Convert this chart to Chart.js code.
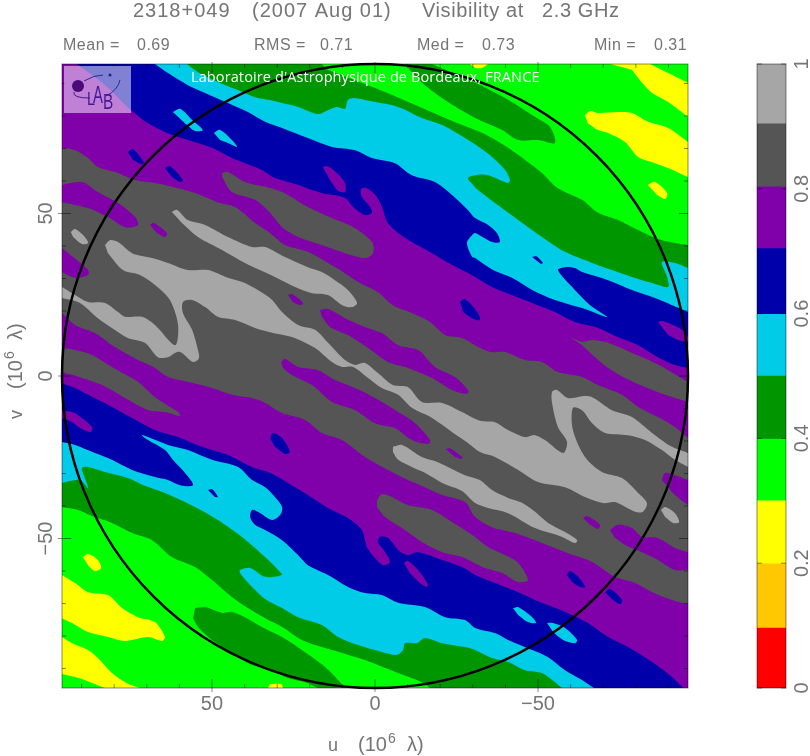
<!DOCTYPE html>
<html>
<head>
<meta charset="utf-8">
<script src="https://cdn.jsdelivr.net/npm/chart.js@4/dist/chart.umd.js"></script>
<style>
  html, body { margin: 0; padding: 0; background: #fff; }
  #page { position: relative; width: 810px; height: 756px; overflow: hidden; }
  canvas { position: absolute; top: 0; }
</style>
</head>
<body>
<div id="page">
  <canvas id="mapChart" width="810" height="756" style="left:0"></canvas>
  <canvas id="barChart" width="70" height="756" style="left:740px"></canvas>
</div>
<script>
const titleParts = ['2318+049', '(2007 Aug 01)', 'Visibility at', '2.3 GHz']
const statLabels = ['Mean =', 'RMS =', 'Med =', 'Min =']
const statValues = ['0.69', '0.71', '0.73', '0.31']
const creditText = "Laboratoire d'Astrophysique de Bordeaux, FRANCE"
const uvTicks = [-50, 0, 50]
const uvMinorTicks = [-90, -80, -70, -60, -40, -30, -20, -10, 10, 20, 30, 40, 60, 70, 80, 90]
const barTicks = [0, 0.2, 0.4, 0.6, 0.8, 1]
const barBounds = [0, 0.096, 0.199, 0.3, 0.399, 0.5, 0.599, 0.704, 0.803, 0.904, 1]
const levelColors = ['#ff0000', '#ffc800', '#ffff00', '#00ff00', '#009600', '#00cce8', '#0000aa', '#8000aa', '#555555', '#a6a6a6']

// contours of the visibility amplitude, [u, v] in 10^6 lambda
const fullArea = [[96,96],[-96,96],[-96,-96],[96,-96]]
const yellowTopRight = [[-72.1,96],[-84.4,96],[-89.9,93.2],[-96,90.2],[-96,79.7],[-89.9,84.3],[-85,87.1],[-81.9,90.2],[-78.8,94.2]]
const yellowRight = [[-64.4,80.3],[-66,81.5],[-68.4,80.9],[-74.5,81.2],[-78.8,80.9],[-83.7,78.2],[-89.9,76.3],[-96,72],[-96,61.2],[-89.9,64],[-85.9,65.5],[-80.7,67.4],[-76.7,72],[-71.5,74.8],[-68.4,75.7],[-65.3,77.8]]
const yellowSpotRight = [[-83.7,58.8],[-85.9,59.7],[-89.6,56.3],[-89,54.5],[-86.5,55.7]]
const yellowTopEdge = [[-29.1,96],[-34.7,96],[-32.8,94.8],[-30.7,94.8]]
const yellowBottomEdge = [[32.8,-96],[28.2,-96],[28.8,-94.8],[32.2,-94.8]]
const yellowSpotLeft = [[89.6,-55.7],[88,-54.8],[85,-56.6],[84,-59.1],[85.9,-60],[88,-58.2]]
const yellowLeft = [[96,-61.2],[92,-63.7],[88,-66.5],[81.9,-67.4],[77.6,-71.4],[72.7,-74.2],[67.5,-75.7],[64.4,-80.3],[65.3,-81.5],[69.6,-80.3],[76.7,-81.5],[81.9,-80.3],[88,-78.8],[92.9,-76],[96,-74.5]]
const yellowBottomLeft = [[96,-80.3],[92.9,-82.2],[88,-84.3],[85,-86.8],[80.7,-91.4],[76.1,-94.5],[72.1,-96],[82.8,-96],[89,-93.5],[92,-92.6],[96,-91.7]]

const greenMain = [[96,96],[16.3,96],[14.4,94.2],[7.1,91.4],[-3.1,87.4],[-13.8,82.8],[-23,78.8],[-33.7,74.5],[-35.9,73.2],[-40.8,70.2],[-46,66.5],[-51.2,62.5],[-56.1,57.8],[-63.5,54.2],[-68.4,50.2],[-74.5,48],[-80.7,44.9],[-85.9,42.5],[-92,40.9],[-96,40.3],[-96,-96],[-16.9,-96],[-14.4,-94.2],[-7.1,-91.4],[3.1,-87.4],[10.1,-85.2],[16.3,-83.4],[22.4,-81.2],[28.5,-77.2],[33.7,-74.5],[39,-71.4],[43.9,-68],[50,-62.8],[55.2,-58.8],[62.3,-55.7],[68.4,-50.5],[74.5,-48.3],[80.7,-45.2],[85.9,-43.4],[91.1,-41.2],[96,-40.3]]
const greenTop = [[-9.2,96],[-11.3,93.5],[-15.3,89.5],[-22.4,84.3],[-30.7,79.4],[-39,75.7],[-43.9,72.6],[-50,72.6],[-55.2,71.7],[-53.7,76.6],[-49.1,79.7],[-40.8,85],[-30.7,90.2],[-17.5,96]]
const greenBottom = [[55.2,-71.4],[52.1,-71.1],[46.9,-72.9],[43.9,-72.6],[39.9,-74.2],[34.7,-77.2],[28.5,-80.3],[22.4,-84.3],[15.3,-89.5],[11.3,-93.5],[9.2,-96],[17.5,-96],[20.6,-94.5],[27.6,-92.6],[32.8,-89.8],[37.7,-88.9],[43.9,-85.2],[50,-81.2],[54.3,-77.2],[55.8,-74.5]]

const cyanMain = [[96,96],[57.7,96],[54.3,93.5],[48.2,90.5],[42,88],[36.8,85.8],[32.2,84.9],[28.5,84],[23.6,82.8],[17.5,80.6],[14.4,81.8],[11.7,82.8],[9.2,82.2],[8.3,84.9],[6.1,85.5],[0,84.3],[-7.1,82.8],[-14.4,79.4],[-20.6,77.2],[-27.6,73.2],[-32.2,70.2],[-35.9,67.4],[-39.9,63.4],[-41.4,60.3],[-40.8,59.4],[-34.7,61.8],[-30.7,61.8],[-28.5,60.9],[-30.1,58.8],[-31.6,57.2],[-36.8,53.2],[-43.9,48],[-51.2,42.8],[-58.3,38.2],[-66.6,34.8],[-72.7,32.6],[-78.8,30.5],[-85,28.6],[-89.9,27.4],[-89.6,30.5],[-88,35.1],[-92,34.8],[-96,33.2],[-96,-96],[-57.4,-96],[-55.2,-94.2],[-51.2,-91.4],[-46,-90.5],[-40.8,-88],[-35.9,-86.8],[-30.7,-84.3],[-27.6,-83.4],[-20.6,-82.2],[-15.3,-80.6],[-12.9,-82.2],[-9.2,-82.2],[-8.6,-84.3],[-6.7,-85.8],[-2.1,-84.9],[5.2,-82.8],[11.3,-80.3],[16.3,-76.6],[23.6,-74.2],[28.5,-71.4],[33.7,-68.6],[37.7,-64.9],[41.4,-60.6],[41.4,-59.7],[38.3,-59.1],[33.7,-61.8],[28.5,-61.2],[29.1,-60.3],[33.7,-55.7],[40.8,-49.5],[48.2,-44.3],[55.2,-40.3],[64.4,-36],[71.2,-33.5],[75.8,-31.4],[81.9,-29.8],[88,-28],[89.9,-28.3],[89.6,-29.8],[88,-34.5],[90.5,-32],[96,-32.9]]
const cyanSpots = [
  [[62,81.2],[59.8,82.2],[56.1,78.8],[52.8,75.7],[55.2,75.4],[58.3,77.8]],
  [[49.4,74.8],[47.5,75.7],[43.9,72.6],[42.3,70.5],[45.1,71.7],[47.5,72.6]],
  [[-42.3,-71.4],[-43.9,-71.1],[-48.5,-74.5],[-49.4,-76],[-46.9,-75.7],[-43.9,-73.5]],
  [[-52.8,-76],[-54.6,-76],[-58.3,-77.5],[-62,-81.2],[-61.3,-82.2],[-57.7,-81.2],[-54.6,-78.8]],
]

const blueMain = [[96,96],[67.5,96],[63.5,93.2],[57.4,89.5],[52.1,87.1],[45.1,84],[39,81.2],[33.7,78.2],[28.5,76.3],[20.6,73.2],[13.2,70.5],[6.1,69.5],[0.9,67.1],[-6.1,65.5],[-11.3,61.8],[-18.4,59.7],[-23.6,55.7],[-28.5,51.1],[-30.7,48.6],[-34.7,46.5],[-37.4,44],[-38.3,41.2],[-35.9,41.2],[-30.7,44],[-29.8,43.4],[-28.2,40.9],[-29.8,36.6],[-30.7,36.3],[-36.2,32.6],[-42,30.2],[-48.2,26.5],[-55.2,23.4],[-63.5,20.9],[-69.9,18.5],[-71.2,18.2],[-66,21.8],[-61.3,26.5],[-56.1,32.6],[-58.3,33.5],[-61.3,33.2],[-63.5,32],[-71.5,29.5],[-78.8,26.5],[-85.9,24],[-96,19.7],[-96,-96],[-67.2,-96],[-63.5,-93.5],[-58.3,-90.5],[-53.1,-86.5],[-48.2,-84.3],[-40.8,-81.2],[-36.8,-79.1],[-30.7,-77.5],[-27.6,-75.1],[-21.5,-74.2],[-15.3,-71.1],[-7.1,-69.8],[-2.1,-67.4],[3.1,-66.8],[8.3,-64.9],[14.4,-61.2],[20.6,-58.2],[23.6,-55.1],[28.5,-50.5],[33.7,-47.4],[36.8,-45.8],[38.3,-43.4],[37.7,-41.2],[35.9,-41.8],[31.6,-44.3],[29.1,-42.8],[28.5,-40.3],[30.7,-37.2],[33.7,-34.2],[37.7,-32],[42,-28],[50,-25.8],[57.4,-22.8],[63.5,-21.2],[69.6,-18.8],[71.5,-18.2],[69.6,-19.7],[64.4,-22.8],[62,-25.8],[58.3,-29.8],[55.8,-33.5],[59.2,-33.8],[63.5,-32],[67.5,-31.1],[74.5,-28.9],[80.7,-25.8],[85.9,-23.7],[92,-21.2],[96,-20.3]]
const blueSpots = [
  [[75.8,68.9],[74.2,69.8],[70.9,65.8],[71.5,65.2],[74.2,66.5]],
  [[64.4,64],[62.9,64.6],[58.9,60.3],[59.8,59.7],[62.3,61.2]],
  [[-26.1,22.8],[-27.6,23.7],[-31.6,19.4],[-32.2,17.2],[-29.8,17.8],[-27,19.7]],
  [[32.2,-19.1],[31.3,-17.5],[28.5,-19.1],[26.1,-23.4],[27.6,-24],[30.7,-21.8]],
  [[-58.9,-61.2],[-59.8,-60],[-62.3,-61.8],[-64.4,-64.9],[-62.9,-64.9],[-60.4,-63.4]],
  [[-70.6,-66.5],[-72.1,-65.5],[-75.8,-68.9],[-75.2,-70.2],[-73,-68.9]],
  [[-48.2,36.6],[-49.4,36.9],[-51.5,34.8],[-50.9,34.5]],
  [[51.2,-35.1],[50,-34.8],[48.2,-37.2],[49.1,-37.2]],
]

const purpleMain = [[96,96],[91.4,96],[82.8,89.5],[74.8,81.8],[69.6,77.8],[62.3,74.2],[57.4,72.6],[50,70.2],[43.9,67.1],[36.8,64.3],[33.7,62.8],[30.7,60.9],[23.6,58.8],[16.3,56.3],[9.2,54.8],[6.7,52],[3.1,49.5],[0.9,50.2],[1.5,52],[4,55.1],[4.3,57.5],[2.5,57.8],[-0.6,55.1],[-2.5,51.1],[-3.7,47.4],[-7.1,44],[-11.3,41.2],[-17.5,37.8],[-23.6,34.2],[-30.7,30.5],[-35.9,27.4],[-42,24.9],[-48.2,22.5],[-55.2,19.7],[-61.3,16.6],[-68.4,14.8],[-74.5,12],[-80.7,9.5],[-86.8,5.8],[-92,3.4],[-96,2.5],[-96,-96],[-94.5,-96],[-91.1,-92.6],[-85,-88],[-77.6,-83.4],[-71.5,-80.3],[-65.3,-76],[-58.3,-72.6],[-51.2,-69.8],[-43.9,-66.5],[-36.8,-63.7],[-30.7,-61.2],[-26.7,-58.8],[-20.6,-56.6],[-13.2,-54.2],[-10.1,-55.1],[-7.1,-53.5],[-4,-49.8],[-1.5,-49.5],[-0.9,-51.1],[-3.1,-54.2],[-4.6,-57.2],[-2.5,-58.2],[0,-56],[2.5,-52.6],[4,-47.4],[8.3,-43.7],[14.4,-40.6],[20.6,-36.6],[26.7,-32.9],[32.2,-29.8],[37.7,-28],[45.1,-24.3],[53.1,-21.8],[60.4,-18.8],[67.5,-16.6],[74.5,-12.9],[80.7,-9.5],[88,-5.8],[92,-3.7],[96,-2.2]]
const purpleSpotsInBlue = [
  [[-86.8,16.6],[-88.3,16.9],[-94.2,14.2],[-96,12],[-96,10.5],[-92.9,11.1],[-89.9,12.6]],
  [[16,64.3],[14.7,64.6],[11.7,62.5],[9.2,59.4],[9.2,56.6],[11.3,56.9],[13.8,60.3]],
  [[-8.9,-57.5],[-10.1,-56.9],[-13.2,-59.7],[-16,-63.7],[-16,-64.9],[-13.8,-63.7],[-10.7,-60.6]],
  [[96,-10.8],[92.9,-11.1],[89.9,-12.9],[86.8,-15.7],[87.1,-17.2],[89.9,-16.3],[92.9,-14.2],[96,-12.9]],
]

const greyMain = [[96,70.2],[92,69.5],[88,67.1],[85,64.3],[78.8,62.5],[73.6,60.3],[67.5,59.4],[60.4,57.8],[55.2,56.3],[48.2,53.5],[42.9,52],[36.8,47.1],[32.2,44],[27.6,40.3],[20.6,38.2],[14.4,34.8],[10.7,32.6],[5.2,28.9],[-0.9,25.8],[-5.5,21.8],[-11.3,19.4],[-16.9,16.6],[-21.5,12.6],[-26.7,11.7],[-30.7,9.5],[-35.3,7.4],[-39.9,7.4],[-46,4.9],[-51.2,4.3],[-56.1,1.2],[-63.5,-0.3],[-68.4,-2.8],[-75.8,-5.8],[-80.7,-9.5],[-86.8,-12.6],[-92,-15.7],[-96,-19.1],[-96,-70.2],[-91.1,-68.9],[-85,-66.5],[-79.8,-63.7],[-73.6,-61.8],[-66.6,-57.2],[-59.2,-54.5],[-51.2,-51.4],[-42.9,-48.3],[-35.9,-46.5],[-30.7,-43.4],[-27.6,-38.8],[-20.6,-36.6],[-15.3,-34.2],[-10.1,-32],[-4,-28.9],[3.1,-24.9],[10.1,-19.7],[16.3,-17.5],[21.5,-13.5],[28.5,-11.4],[33.7,-8.3],[37.7,-6.8],[43.9,-5.8],[50,-3.7],[57.4,-1.8],[63.5,-0.3],[67.5,2.5],[72.7,4.9],[79.8,8.9],[85.9,13.2],[92,15.7],[96,19.4]]
const greyIslands = [
  [[46.9,62.5],[45.1,62.8],[39.9,59.7],[33.7,58.2],[28.5,56.6],[20.6,52],[13.2,48.6],[6.1,45.5],[0.9,41.2],[0.6,37.8],[3.1,36.3],[9.2,37.8],[16.3,40.3],[23.6,42.8],[28.5,45.8],[32.2,50.2],[36.8,54.2],[43.9,56.6],[46.9,61.2]],
  [[-59.8,12],[-63.5,10.5],[-66.6,11.1],[-71.5,10.2],[-78.8,7.1],[-85.9,4],[-96,-1.8],[-96,-8],[-89,-5.8],[-82.8,-3.4],[-76.7,-0.6],[-71.5,2.5],[-67.5,5.8],[-63.5,9.5]],
  [[96,8.6],[92,8],[86.8,6.5],[80.7,2.8],[72.7,-1.8],[67.5,-6.5],[60.4,-11.1],[59.8,-12.3],[64.4,-11.1],[69.6,-10.5],[76.7,-6.8],[83.7,-2.8],[89.9,-0.6],[96,1.2]],
  [[-0.6,-38.2],[-2.1,-36.3],[-5.2,-37.2],[-10.1,-39.7],[-17.5,-41.2],[-23.6,-44.9],[-30.7,-49.5],[-34.7,-52.6],[-39.9,-55.1],[-43.9,-57.5],[-46.9,-62.8],[-43.9,-63.4],[-39,-60.6],[-33.7,-59.1],[-26.7,-55.7],[-20.6,-54.2],[-14.4,-51.1],[-8.3,-46.8],[-3.1,-43.4],[-0.6,-40.3]],
]
const purpleSpotsInGrey = [
  [[96,58.8],[89.9,59.7],[85,56.6],[78.8,53.2],[73.6,48.9],[72.7,46.5],[76.7,45.8],[81.9,48.9],[88,51.7],[96,53.5]],
  [[96,39.4],[92.6,36.6],[88,32.6],[88,31.1],[92,30.2],[96,32]],
  [[-72.1,-47.4],[-74.5,-45.8],[-78.8,-46.8],[-81.9,-49.5],[-86.5,-49.8],[-92,-52.9],[-96,-54.2],[-96,-59.7],[-92,-59.7],[-86.8,-56.6],[-81.9,-54.2],[-76.7,-52],[-73.6,-49.8]],
  [[-88,-32],[-89,-29.8],[-92,-30.5],[-96,-32],[-96,-39.7],[-92,-36.6],[-89.9,-34.2]],
  [[16.9,20.3],[14.4,20.6],[9.2,17.8],[3.1,15.1],[-2.1,13.2],[-7.1,9.5],[-13.2,8],[-18.4,2.8],[-24.5,-0.3],[-28.5,-4.3],[-28.2,-5.5],[-23.6,-4.3],[-17.5,-0.6],[-10.1,2.5],[-4,4.3],[2.1,8.6],[8.3,12.6],[13.8,15.1],[16.3,18.2]],
  [[28.8,4.3],[27.6,5.2],[23.6,2.8],[17.5,1.8],[12.3,-1.2],[6.1,-3.7],[0,-6.8],[-7.1,-11.1],[-12.3,-14.5],[-16.9,-19.7],[-16.3,-20.9],[-11.3,-19.7],[-6.1,-16],[0,-14.5],[6.1,-10.5],[13.2,-8],[19.3,-2.8],[25.5,0.3],[28.2,2.5]],
  [[26.7,24.9],[25.5,25.2],[22.1,22.5],[23,21.8],[25.2,22.8]],
  [[-21.8,-22.5],[-23,-22.2],[-26.7,-24.9],[-26.7,-25.5],[-24.5,-24.9]],
  [[-63.8,-43.7],[-65,-43.1],[-69,-45.8],[-68.4,-47.1],[-66,-45.8]],
  [[69,46.5],[67.8,47.1],[63.8,44],[64.4,42.8],[66.9,44]],
]

const lightMain = [[82.8,40.3],[81.3,41.8],[78.8,41.2],[74.5,37.8],[68.4,36.3],[63.5,34.8],[57.4,32.6],[51.2,32.6],[45.1,30.2],[39.9,28.6],[32.2,24],[28.5,19.7],[23.6,15.7],[18.4,14.2],[14.4,10.2],[9.2,4.9],[6.1,3.4],[3.1,4],[-0.9,0.9],[-5.5,-2.8],[-10.1,-3.4],[-14.4,-8],[-20.6,-8.3],[-26.7,-11.1],[-32.2,-13.8],[-36.8,-14.2],[-40.8,-16.6],[-46,-18.8],[-49.1,-18.2],[-52.1,-19.7],[-57.7,-23.7],[-58.9,-20.3],[-56.1,-15.7],[-54.3,-8.3],[-54.3,-4.9],[-55.8,-4.3],[-59.2,-6.8],[-63.5,-6.2],[-66.6,-6.5],[-72.7,-10.5],[-78.8,-12.6],[-85,-17.5],[-91.1,-21.8],[-96,-23.7],[-96,-28],[-92,-25.8],[-88,-22.8],[-82.8,-19.7],[-77.6,-18.2],[-70.6,-17.5],[-66.6,-14.5],[-63.5,-10.5],[-60.7,-9.8],[-60.7,-16.6],[-64.4,-24.9],[-69.6,-29.5],[-75.8,-31.4],[-80.7,-36],[-83.4,-39.1],[-82.2,-41.8],[-79.8,-41.8],[-73.6,-38.8],[-69.9,-39.1],[-64.4,-37.2],[-58.3,-34.2],[-50,-32.6],[-43.9,-28.9],[-36.8,-24.9],[-32.2,-23.4],[-28.5,-20.6],[-23.6,-17.2],[-17.5,-12.9],[-11.3,-9.8],[-7.1,-5.8],[-2.1,-3.7],[2.1,-0.6],[6.7,2.8],[10.1,2.8],[13.2,4.3],[18.4,8.6],[25.5,12],[32.2,13.5],[36.8,14.8],[42.9,17.2],[48.2,18.2],[52.1,21.2],[56.1,23.4],[58.9,22.8],[58.9,19.4],[56.1,14.2],[54.3,8],[54,5.5],[55.8,4.3],[59.2,7.1],[60.7,7.4],[63.5,5.8],[66.6,5.8],[70.6,10.2],[75.8,11.7],[80.7,14.8],[85,17.8],[90.5,22.5],[96,24],[96,27.4],[92.9,25.5],[88,22.8],[82.8,22.5],[78.8,19.7],[76.7,18.2],[71.5,18.2],[67.5,15.7],[61.3,9.5],[60.4,15.7],[62.9,23.4],[67.5,28],[72.1,31.1],[77.3,32.6],[81.9,37.8]]
const lightUpper = [[62.3,50.5],[60.7,51.1],[57.4,48],[52.1,46.5],[45.1,42.8],[37.7,39.7],[33.7,39.7],[27.6,36.6],[20.6,33.5],[16.3,32],[12.3,29.5],[8.3,26.5],[5.5,22.5],[7.1,21.2],[10.1,21.8],[14.4,24.9],[19.3,25.5],[24.5,27.4],[30.7,30.5],[39.9,34.8],[46.9,38.8],[54.3,42.8],[59.2,47.1]]
const lightLower = [[-5.5,-21.8],[-8.3,-21.2],[-14.4,-24.9],[-19.3,-26.5],[-27.6,-30.5],[-32.2,-32],[-35.9,-35.1],[-40.8,-37.5],[-45.1,-39],[-49.1,-41.8],[-53.1,-45.2],[-58.3,-48],[-62,-50.5],[-61.3,-51.4],[-57.4,-49.5],[-49.1,-46.8],[-40.8,-42.2],[-34.7,-40.6],[-30.7,-39.1],[-26.7,-35.4],[-20.6,-32.9],[-15.3,-29.8],[-11.3,-28],[-7.1,-25.8],[-5.5,-23.4]]
const lightSpotLeft = [[93.3,44.3],[92,45.2],[89,42.8],[88,40.9],[89.9,40.6],[92.6,42.8]]
const lightSpotRight = [[-87.7,-41.2],[-89,-40.3],[-92,-42.2],[-93.3,-44.9],[-91.4,-45.2],[-89,-43.4]]

// painted bottom to top, later regions cover earlier ones
const regions = [
  [fullArea, 3],
  [yellowTopRight, 2], [yellowRight, 2], [yellowSpotRight, 2], [yellowTopEdge, 2],
  [yellowBottomEdge, 2], [yellowSpotLeft, 2], [yellowLeft, 2], [yellowBottomLeft, 2],
  [greenMain, 4], [greenTop, 4], [greenBottom, 4],
  [cyanMain, 5],
  [blueMain, 6],
  ...cyanSpots.map(s => [s, 5]),
  [purpleMain, 7],
  ...purpleSpotsInBlue.map(s => [s, 7]),
  ...blueSpots.map(s => [s, 6]),
  [greyMain, 8],
  ...greyIslands.map(s => [s, 8]),
  ...purpleSpotsInGrey.map(s => [s, 7]),
  [lightMain, 9], [lightUpper, 9], [lightLower, 9], [lightSpotLeft, 9], [lightSpotRight, 9],
]

const textFont = '"Liberation Sans", sans-serif'
const textColor = '#757575'

function spaced(ctx, text, x, y, size, spacing) {
  ctx.font = size + 'px ' + textFont
  ctx.letterSpacing = spacing + 'px'
  ctx.fillText(text, x, y)
  ctx.letterSpacing = '0px'
}

// axis title made of pieces so the exponent sits higher, run along +x of the current transform
function axisUnits(ctx, letter, x, y) {
  spaced(ctx, letter, x, y, 18, 0)
  spaced(ctx, '(10', x + 30, y, 20, 0)
  spaced(ctx, '6', x + 60, y - 8, 14, 0)
  spaced(ctx, 'λ)', x + 79, y, 20, 0)
}

function drawLetter(ctx, letter, x, y, size, squeeze) {
  ctx.save()
  ctx.translate(x, y)
  ctx.scale(squeeze, 1)
  ctx.font = size + 'px ' + textFont
  ctx.fillText(letter, 0, 0)
  ctx.restore()
}

function drawLogo(ctx, left, top) {
  ctx.save()
  ctx.translate(left, top)
  ctx.fillStyle = 'rgba(255,255,255,0.5)'
  ctx.fillRect(2, 2, 67, 47)
  ctx.fillStyle = '#4a0a78'
  ctx.beginPath()
  ctx.arc(16, 22, 6, 0, Math.PI * 2)
  ctx.fill()
  ctx.fillStyle = '#20208a'
  ctx.beginPath()
  ctx.arc(48, 11, 1.5, 0, Math.PI * 2)
  ctx.fill()
  ctx.strokeStyle = '#2a2a9a'
  ctx.lineWidth = 1
  ctx.beginPath()
  ctx.moveTo(22, 17)
  ctx.quadraticCurveTo(32, 11, 41, 11)
  ctx.moveTo(58, 16)
  ctx.quadraticCurveTo(56, 26, 44, 32)
  ctx.stroke()
  ctx.strokeStyle = '#4a1a90'
  ctx.beginPath()
  ctx.moveTo(12, 28)
  ctx.quadraticCurveTo(10, 34, 28, 34)
  ctx.stroke()
  ctx.fillStyle = '#45189a'
  drawLetter(ctx, 'L', 25, 41, 18, 0.8)
  drawLetter(ctx, 'A', 31, 39, 24, 0.62)
  drawLetter(ctx, 'B', 41, 45, 22, 0.7)
  ctx.restore()
}

const mapDecor = {
  id: 'mapDecor',
  afterDatasetsDraw(chart) {
    const { ctx, chartArea: area, scales: { x, y } } = chart
    ctx.save()

    // baseline circle of radius 96
    ctx.beginPath()
    ctx.ellipse(x.getPixelForValue(0), y.getPixelForValue(0),
      Math.abs(x.getPixelForValue(96) - x.getPixelForValue(0)),
      Math.abs(y.getPixelForValue(96) - y.getPixelForValue(0)), 0, 0, Math.PI * 2)
    ctx.strokeStyle = '#000'
    ctx.lineWidth = 2.5
    ctx.stroke()

    // box with inward ticks on all sides
    ctx.strokeStyle = 'rgba(0,0,0,0.45)'
    ctx.lineWidth = 1
    ctx.strokeRect(area.left, area.top, area.width, area.height)
    ctx.beginPath()
    uvMinorTicks.forEach(v => {
      const px = x.getPixelForValue(v), py = y.getPixelForValue(v)
      ctx.moveTo(px, area.bottom); ctx.lineTo(px, area.bottom - 4)
      ctx.moveTo(px, area.top); ctx.lineTo(px, area.top + 4)
      ctx.moveTo(area.left, py); ctx.lineTo(area.left + 4, py)
      ctx.moveTo(area.right, py); ctx.lineTo(area.right - 4, py)
    })
    uvTicks.forEach(v => {
      const px = x.getPixelForValue(v), py = y.getPixelForValue(v)
      ctx.moveTo(px, area.bottom + 4); ctx.lineTo(px, area.bottom - 9)
      ctx.moveTo(px, area.top - 2); ctx.lineTo(px, area.top + 9)
      ctx.moveTo(area.left - 4, py); ctx.lineTo(area.left + 9, py)
      ctx.moveTo(area.right, py); ctx.lineTo(area.right - 9, py)
    })
    ctx.stroke()

    drawLogo(ctx, area.left, area.top)
    ctx.fillStyle = '#fff'
    ctx.textBaseline = 'alphabetic'
    ctx.font = '14.5px "Open Sans", sans-serif'
    ctx.letterSpacing = '0.11px'
    ctx.fillText(creditText, 191, 82)
    ctx.letterSpacing = '0px'
    ctx.restore()
  },
  afterDraw(chart) {
    const { ctx, scales: { y } } = chart
    ctx.save()
    ctx.fillStyle = textColor
    ctx.textBaseline = 'alphabetic'
    ctx.textAlign = 'left'

    const titleX = [133, 252, 422, 542]
    const titleSpacing = [1, 1, 0.6, 0.6]
    titleParts.forEach((t, i) => spaced(ctx, t, titleX[i], 17, 20, titleSpacing[i]))
    const labelX = [63, 254, 417, 594]
    const valueX = [137, 320, 482, 654]
    statLabels.forEach((t, i) => {
      spaced(ctx, t, labelX[i], 50, 16, 0.5)
      spaced(ctx, statValues[i], valueX[i], 50, 16, 0.5)
    })

    axisUnits(ctx, 'u', 328, 751)

    // rotated y labels and title
    uvTicks.forEach(v => {
      ctx.save()
      ctx.translate(52, y.getPixelForValue(v))
      ctx.rotate(-Math.PI / 2)
      ctx.textAlign = 'center'
      spaced(ctx, String(v).replace('-', '\u2212'), 0, 0, 20, 0)
      ctx.restore()
    })
    ctx.save()
    ctx.translate(22, 419)
    ctx.rotate(-Math.PI / 2)
    axisUnits(ctx, 'v', 0, 0)
    ctx.restore()
    ctx.restore()
  },
}

// a doubled vertex keeps the spline sharp where a contour meets the plot edge
const sharpAtEdge = points => points.flatMap(p =>
  Math.abs(p[0]) === 96 || Math.abs(p[1]) === 96 ? [p, p] : [p])

new Chart(document.getElementById('mapChart'), {
  type: 'scatter',
  plugins: [mapDecor],
  data: {
    // Chart.js paints the last dataset first
    datasets: regions.map(([points, level]) => ({
      data: sharpAtEdge(points).map(([x, y]) => ({ x, y })),
      showLine: true,
      fill: 'shape',
      tension: 0.3,
      backgroundColor: levelColors[level],
      borderColor: 'transparent',
      borderWidth: 0,
      pointRadius: 0,
    })).reverse(),
  },
  options: {
    animation: false,
    responsive: false,
    layout: { padding: { top: 64, right: 122, left: 0, bottom: 0 } },
    plugins: { legend: { display: false }, tooltip: { enabled: false } },
    scales: {
      x: {
        type: 'linear',
        min: -96,
        max: 96,
        reverse: true,
        afterBuildTicks: s => { s.ticks = uvTicks.map(value => ({ value })) },
        afterFit: s => { s.height = 68 },
        grid: { display: false },
        border: { display: false },
        ticks: {
          callback: v => String(v).replace('-', '\u2212'),
          color: textColor,
          font: { family: 'Liberation Sans', size: 20 },
          padding: -4,
          maxRotation: 0,
        },
      },
      y: {
        type: 'linear',
        min: -96,
        max: 96,
        afterBuildTicks: s => { s.ticks = uvTicks.map(value => ({ value })) },
        afterFit: s => { s.width = 62 },
        grid: { display: false },
        border: { display: false },
        ticks: { display: false },
      },
    },
  },
})

const barDecor = {
  id: 'barDecor',
  afterDraw(chart) {
    const { ctx, chartArea: area, scales: { y } } = chart
    ctx.save()
    ctx.strokeStyle = 'rgba(0,0,0,0.45)'
    ctx.lineWidth = 1
    ctx.strokeRect(area.left, area.top, area.width, area.height)
    ctx.beginPath()
    barTicks.forEach(v => {
      const py = y.getPixelForValue(v)
      ctx.moveTo(area.left, py); ctx.lineTo(area.left + 5, py)
      ctx.moveTo(area.right, py); ctx.lineTo(area.right - 5, py)
    })
    ctx.stroke()
    ctx.fillStyle = textColor
    barTicks.forEach(v => {
      ctx.save()
      ctx.translate(68, y.getPixelForValue(v))
      ctx.rotate(-Math.PI / 2)
      ctx.textAlign = 'center'
      spaced(ctx, String(v), 0, 0, 20, 0)
      ctx.restore()
    })
    ctx.restore()
  },
}

new Chart(document.getElementById('barChart'), {
  type: 'bar',
  plugins: [barDecor],
  data: {
    labels: ['level'],
    datasets: levelColors.map((color, i) => ({
      data: [[barBounds[i], barBounds[i + 1]]],
      backgroundColor: color,
      barPercentage: 1,
      categoryPercentage: 1,
      grouped: false,
    })),
  },
  options: {
    animation: false,
    responsive: false,
    layout: { padding: { top: 64, right: 24, left: 0, bottom: 0 } },
    plugins: { legend: { display: false }, tooltip: { enabled: false } },
    scales: {
      x: {
        afterFit: s => { s.height = 68 },
        grid: { display: false },
        border: { display: false },
        ticks: { display: false },
      },
      y: {
        min: 0,
        max: 1,
        afterFit: s => { s.width = 17 },
        grid: { display: false },
        border: { display: false },
        ticks: { display: false },
      },
    },
  },
})
</script>
</body>
</html>
